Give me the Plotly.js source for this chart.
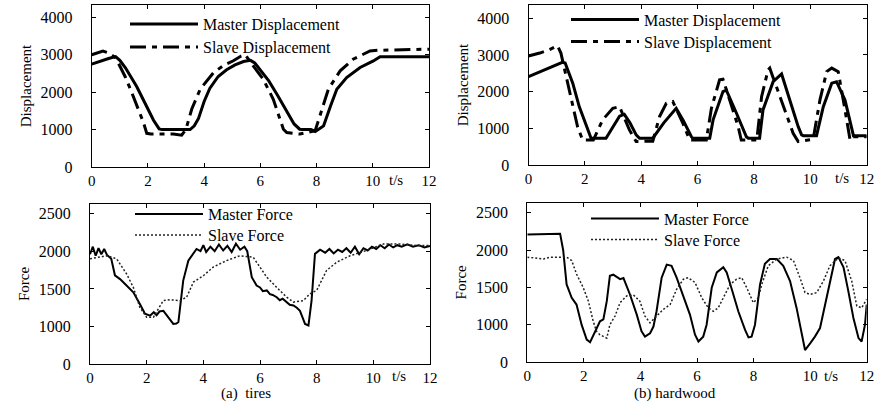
<!DOCTYPE html>
<html>
<head>
<meta charset="utf-8">
<script src="https://cdn.plot.ly/plotly-3.0.1.min.js"></script>
<style>html,body{margin:0;padding:0;background:#fff;}#chart{width:876px;height:403px;}</style>
</head>
<body>
<div id="chart"></div>
<script>
// ---- (a) tires : displacement ----
const tA_masterDisp = [0,0.3,0.6,0.85,1.0,1.2,1.4,1.6,1.8,2.0,2.2,2.4,2.5,3.5,3.65,3.8,4.0,4.2,4.5,4.8,5.1,5.4,5.65,5.8,6.0,6.3,6.6,6.9,7.2,7.4,7.5,7.8,7.95,8.1,8.25,8.5,8.72,9.07,9.55,10.02,10.26,12];
const vA_masterDisp = [2750,2830,2900,2950,2850,2650,2400,2150,1850,1550,1250,1020,1000,1000,1100,1300,1750,2100,2420,2600,2730,2820,2850,2780,2600,2300,1930,1520,1150,1010,1000,1000,950,1020,1100,1640,2080,2390,2660,2835,2950,2950];
const tA_slaveDisp = [0,0.2,0.4,0.6,0.85,1.0,1.2,1.42,1.6,1.84,1.96,2.1,2.9,3.2,3.35,3.56,3.86,4.1,4.33,4.7,5.04,5.3,5.46,5.7,6.1,6.46,6.82,6.94,7.41,7.95,8.19,8.42,8.84,9.3,9.9,10.2,12];
const vA_slaveDisp = [3000,3050,3100,3050,2920,2700,2400,2000,1650,1190,900,880,880,850,1000,1550,2080,2320,2520,2720,2840,2960,3000,2750,2350,1810,1010,920,880,970,1550,2080,2570,2880,3100,3120,3150];

// ---- (b) hardwood : displacement ----
const tB_masterDisp = [0,0.5,1.0,1.2,1.3,1.57,1.8,2.1,2.22,2.75,3.0,3.23,3.4,3.6,3.82,3.94,4.41,4.8,5.24,5.5,5.78,5.83,6.43,6.55,6.9,7.02,7.38,7.73,7.8,8.2,8.32,8.68,8.98,9.27,9.57,9.69,9.75,10.22,10.46,10.76,10.93,11.23,11.47,11.53,12];
const vB_masterDisp = [2410,2580,2730,2800,2780,2230,1590,955,730,730,1050,1330,1380,1150,820,730,730,1150,1545,1200,770,730,730,1230,2000,2040,1410,770,730,730,1500,2270,2480,1770,1045,820,800,800,1590,2230,2270,1770,955,800,800];
const tB_slaveDisp = [0,0.4,0.74,1.03,1.15,1.45,1.74,1.92,2.3,2.63,2.99,3.23,3.58,3.82,4.41,4.65,4.89,5.12,5.48,5.72,6.31,6.49,6.78,6.9,7.14,7.44,7.55,8.1,8.27,8.5,8.56,9.04,9.39,9.57,10.1,10.34,10.58,10.76,10.99,11.23,11.41,11.5,12];
const vB_slaveDisp = [2970,3050,3140,3250,3050,2045,1045,680,680,1230,1545,1590,955,640,650,1320,1680,1730,1135,680,680,1545,2320,2340,1770,1045,680,680,1860,2590,2640,1590,865,640,700,1770,2545,2640,2545,1500,680,770,770];

// ---- (a) tires : force ----
const tA_masterForce = [0,0.1,0.2,0.3,0.4,0.5,0.6,0.75,0.88,1.06,1.29,1.53,1.76,1.94,2.12,2.25,2.35,2.45,2.59,2.76,2.94,3.05,3.12,3.18,3.29,3.47,3.76,3.9,4.0,4.1,4.25,4.4,4.55,4.7,4.85,5.0,5.15,5.3,5.45,5.55,5.59,5.71,5.88,6.0,6.1,6.24,6.35,6.45,6.59,6.7,6.8,6.94,7.05,7.18,7.3,7.41,7.59,7.71,7.82,7.94,8.12,8.3,8.45,8.6,8.75,8.9,9.05,9.2,9.35,9.5,9.65,9.8,9.95,10.1,10.25,10.4,10.55,10.7,10.85,11.0,11.2,11.4,11.6,11.8,12];
const vA_masterForce = [1960,2060,1940,2040,1960,2030,1950,1900,1680,1630,1545,1455,1300,1170,1145,1190,1150,1200,1210,1125,1035,1040,1060,1255,1610,1875,2030,2000,2080,1990,2060,2000,2090,2010,2070,1990,2100,2020,2060,2000,1920,1655,1545,1520,1470,1480,1430,1420,1390,1350,1370,1325,1290,1280,1250,1210,1035,1015,1345,1965,2020,1980,2030,1970,2020,1990,2040,1980,2060,1960,2040,2010,2060,2030,2080,2040,2090,2050,2080,2060,2090,2060,2080,2050,2070];
const tA_slaveForce = [0,0.3,0.6,0.94,1.1,1.29,1.53,1.76,2.0,2.24,2.41,2.59,2.82,3.18,3.41,3.65,4.0,4.35,4.82,5.29,5.76,6.0,6.24,6.59,6.94,7.18,7.53,7.76,8.0,8.35,8.71,9.18,9.76,10.35,10.94,11.53,12];
const vA_slaveForce = [1900,1920,1940,1900,1800,1700,1520,1255,1125,1125,1235,1345,1355,1345,1390,1590,1675,1790,1875,1940,1920,1790,1655,1520,1390,1325,1345,1435,1480,1745,1855,1940,2010,2095,2095,2075,2075];

// ---- (b) hardwood : force ----
const tB_masterForce = [0,0.5,1.16,1.27,1.39,1.57,1.74,1.92,2.1,2.22,2.39,2.57,2.69,2.81,2.92,3.04,3.28,3.4,3.63,3.87,4.04,4.16,4.34,4.46,4.57,4.75,4.93,5.1,5.28,5.52,5.75,5.93,6.05,6.22,6.34,6.52,6.7,6.93,7.05,7.23,7.46,7.7,7.82,7.93,8.05,8.23,8.4,8.58,8.82,9.05,9.29,9.52,9.7,9.82,10.0,10.17,10.35,10.53,10.7,10.88,11.0,11.18,11.35,11.53,11.71,11.82,11.94,12];
const vB_masterForce = [2210,2210,2220,1995,1540,1360,1270,1000,800,765,910,1045,1070,1315,1655,1670,1610,1625,1405,1135,910,840,885,975,1180,1630,1805,1790,1630,1385,1135,865,775,840,1000,1495,1700,1770,1700,1475,1180,930,830,840,1000,1540,1815,1880,1880,1790,1585,1225,910,660,750,840,955,1270,1610,1880,1905,1770,1450,1090,820,775,1000,1270];
const tB_slaveForce = [0,0.57,0.8,1.39,1.57,1.74,1.98,2.16,2.33,2.45,2.57,2.69,2.81,2.92,3.1,3.28,3.51,3.75,3.98,4.16,4.34,4.57,4.81,5.05,5.28,5.52,5.69,5.93,6.17,6.4,6.58,6.75,6.93,7.17,7.4,7.58,7.76,7.99,8.17,8.29,8.52,8.82,9.17,9.41,9.64,9.82,10.0,10.23,10.47,10.7,11.0,11.23,11.47,11.65,11.82,12];
const vB_slaveForce = [1905,1880,1905,1905,1860,1680,1495,1315,1045,910,865,840,820,1000,1115,1295,1385,1400,1315,1115,1025,1115,1205,1270,1475,1610,1630,1565,1360,1225,1180,1225,1360,1540,1610,1630,1495,1295,1360,1540,1790,1880,1905,1860,1630,1430,1405,1430,1585,1790,1895,1860,1585,1250,1225,1340];

// ---- labels ----
const dispTicks = [0,1000,2000,3000,4000];
const forceTickVals = [500,1000,1500,2000,2500];
const forceTickText = ['0','1000','1500','2000','2500'];
const xTicks = [0,2,4,6,8,10,12];
const captions = ['(a)  tires','(b) hardwood'];
const timeUnit = 't/s';

const serif = 'Liberation Serif, Times New Roman, serif';

const dashDot = '16px,6px,5px,6px';
const dotted = '2px,2px';
const traces = [
  {x:tA_masterDisp,y:vA_masterDisp,name:'Master Displacement',xaxis:'x',yaxis:'y',legend:'legend',line:{color:'#000',width:3}},
  {x:tA_slaveDisp,y:vA_slaveDisp,name:'Slave Displacement',xaxis:'x',yaxis:'y',legend:'legend2',line:{color:'#000',width:3,dash:dashDot}},
  {x:tB_masterDisp,y:vB_masterDisp,name:'Master Displacement',xaxis:'x2',yaxis:'y2',legend:'legend3',line:{color:'#000',width:3}},
  {x:tB_slaveDisp,y:vB_slaveDisp,name:'Slave Displacement',xaxis:'x2',yaxis:'y2',legend:'legend4',line:{color:'#000',width:3,dash:dashDot}},
  {x:tA_masterForce,y:vA_masterForce,name:'Master Force',xaxis:'x3',yaxis:'y3',legend:'legend5',line:{color:'#000',width:2}},
  {x:tA_slaveForce,y:vA_slaveForce,name:'Slave Force',xaxis:'x3',yaxis:'y3',legend:'legend6',line:{color:'#222',width:1.5,dash:dotted}},
  {x:tB_masterForce,y:vB_masterForce,name:'Master Force',xaxis:'x4',yaxis:'y4',legend:'legend7',line:{color:'#000',width:2}},
  {x:tB_slaveForce,y:vB_slaveForce,name:'Slave Force',xaxis:'x4',yaxis:'y4',legend:'legend8',line:{color:'#222',width:1.5,dash:dotted}}
].map(t => Object.assign({type:'scatter',mode:'lines'}, t));

const W = 876, H = 403;
const px = v => v / W;
const py = v => 1 - v / H;

function xax(l, r, anchor) {
  return {domain:[px(l),px(r)],range:[0,12],tickvals:xTicks,anchor:anchor,
    ticks:'inside',ticklen:4,tickcolor:'#000',mirror:'ticks',showline:true,linecolor:'#000',linewidth:1,
    showgrid:false,zeroline:false,tickfont:{family:serif,size:15,color:'#000'},fixedrange:true};
}
function yax(top, bot, anchor, range, vals, text, title) {
  const a = {domain:[py(bot),py(top)],range:range,tickvals:vals,anchor:anchor,
    ticks:'inside',ticklen:4,tickcolor:'#000',mirror:'ticks',showline:true,linecolor:'#000',linewidth:1,
    showgrid:false,zeroline:false,tickfont:{family:serif,size:16,color:'#000'},ticklabelstandoff:15,
    title:{text:title,font:{family:serif,size:15,color:'#000'},standoff:5},fixedrange:true};
  if (text) a.ticktext = text;
  return a;
}
// legend placed by the pixel where its text should start (textX) and its text centre (textY)
function leg(textX, textY) {
  return {x:px(textX - 77),y:py(textY - 16.5),xanchor:'left',yanchor:'top',bgcolor:'rgba(0,0,0,0)',borderwidth:0,
    itemwidth:68,font:{family:serif,size:16,color:'#000'}};
}
function note(text, xref, x, y, size) {
  return {text:text,xref:xref,yref:'paper',x:x,y:py(y),xanchor:'center',yanchor:'middle',
    showarrow:false,font:{family:serif,size:size,color:'#000'}};
}

const layout = {
  width:W,height:H,autosize:false,margin:{l:0,r:0,t:0,b:0},
  paper_bgcolor:'#fff',plot_bgcolor:'#fff',showlegend:true,
  xaxis:xax(91.7,429,'y'),
  yaxis:yax(5,167,'x',[0,4330],dispTicks,null,'Displacement'),
  xaxis2:xax(528.5,866.7,'y2'),
  yaxis2:yax(5,165,'x2',[0,4360],dispTicks,null,'Displacement'),
  xaxis3:xax(90,430,'y3'),
  yaxis3:yax(203.5,364.3,'x3',[500,2633],forceTickVals,forceTickText,'Force'),
  xaxis4:xax(527.3,866.7,'y4'),
  yaxis4:yax(202.7,362,'x4',[500,2635],forceTickVals,forceTickText,'Force'),
  legend:leg(202,23.5),
  legend2:leg(202,46.5),
  legend3:leg(643,19),
  legend4:leg(643,41),
  legend5:leg(207,213.5),
  legend6:leg(207,234.5),
  legend7:leg(663,218),
  legend8:leg(663,239),
  annotations:[
    note(timeUnit,'x',10.83,180,15),
    note(timeUnit,'x2',11.12,178,15),
    note(timeUnit,'x3',10.9,376,15),
    note(timeUnit,'x4',10.74,376,15),
    note(captions[0],'paper',px(246),393,15),
    note(captions[1],'paper',px(675),393,15)
  ]
};

Plotly.newPlot('chart', traces, layout, {displayModeBar:false,staticPlot:true});
</script>
</body>
</html>
